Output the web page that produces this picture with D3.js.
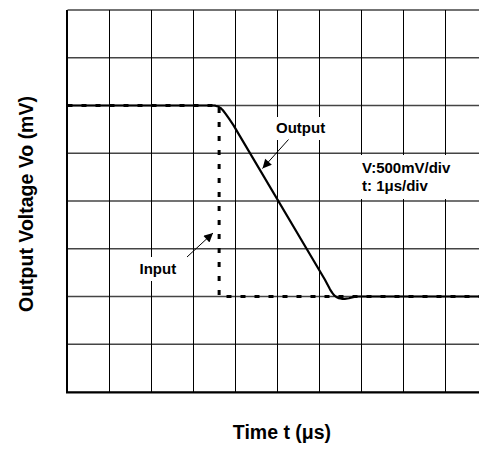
<!DOCTYPE html>
<html>
<head>
<meta charset="utf-8">
<script src="https://cdn.jsdelivr.net/npm/d3@7"></script>
<style>
  html, body { margin: 0; padding: 0; background: #fff; }
  svg { display: block; }
  text { font-family: "Liberation Sans", Arial, sans-serif; font-weight: bold; fill: #000; }
</style>
</head>
<body>
<svg id="chart" width="479" height="451"></svg>
<script>
// ---- data ----
const timeTicks = [0, 1, 2, 3, 4, 5, 6, 7, 8, 9, 10];            // μs (1 μs/div)
const voltTicks = [0, 500, 1000, 1500, 2000, 2500, 3000, 3500, 4000]; // mV (500 mV/div)

const outputTime = [0, 3.45, 3.52, 3.58, 3.64, 3.7, 3.77, 3.85, 3.95, 6.13, 6.19, 6.25, 6.3, 6.35, 6.4, 6.46, 6.53, 6.6, 6.7, 6.8, 6.9, 10];
const outputVolt = [3000, 3000, 2998, 2990, 2975, 2950, 2910, 2860, 2795, 1175, 1125, 1075, 1040, 1012, 995, 983, 976, 975, 982, 993, 1000, 1000];

const inputTime = [0, 3.61, 3.61, 10];
const inputVolt = [3000, 3000, 1000, 1000];

const labels = {
  yTitle: "Output Voltage Vo (mV)",
  xTitle: "Time t (μs)",
  output: "Output",
  input: "Input",
  scale1: "V:500mV/div",
  scale2: "t: 1μs/div"
};

// ---- layout ----
const svg = d3.select("#chart");
const W = 479, H = 451;
const plotLeft = 67.5, plotTop = 10, plotBottom = 392;
const x = d3.scaleLinear().domain([0, 10]).range([plotLeft, plotLeft + 420]);
const y = d3.scaleLinear().domain([0, 4000]).range([plotBottom, plotTop]);

svg.append("rect").attr("width", W).attr("height", H).attr("fill", "#fff");

// horizontal grid
svg.append("g").selectAll("line").data(voltTicks).join("line")
  .attr("x1", plotLeft).attr("x2", W)
  .attr("y1", d => y(d)).attr("y2", d => y(d))
  .attr("stroke", "#444").attr("stroke-width", 1.3);

// vertical grid
svg.append("g").selectAll("line").data(timeTicks).join("line")
  .attr("x1", d => x(d)).attr("x2", d => x(d))
  .attr("y1", plotTop).attr("y2", plotBottom)
  .attr("stroke", "#000").attr("stroke-width", 1);

// axes borders
svg.append("line").attr("x1", plotLeft - 0.5).attr("x2", plotLeft - 0.5).attr("y1", plotTop).attr("y2", plotBottom + 1)
  .attr("stroke", "#000").attr("stroke-width", 2);
svg.append("line").attr("x1", plotLeft - 1.5).attr("x2", W).attr("y1", plotBottom + 0.5).attr("y2", plotBottom + 0.5)
  .attr("stroke", "#000").attr("stroke-width", 2);

// white boxes behind labels
const boxes = [
  [274, 117, 54, 23],
  [136, 257, 43, 24],
  [358, 155, 97, 44]
];
svg.append("g").selectAll("rect").data(boxes).join("rect")
  .attr("x", d => d[0]).attr("y", d => d[1]).attr("width", d => d[2]).attr("height", d => d[3])
  .attr("fill", "#fff");

// input (dotted)
const inputData = inputTime.map((t, i) => [t, inputVolt[i]]);
svg.append("path")
  .datum(inputData)
  .attr("d", d3.line().x(d => x(d[0])).y(d => y(d[1])))
  .attr("fill", "none").attr("stroke", "#000").attr("stroke-width", 3)
  .attr("stroke-dasharray", "5,9");

// output (solid)
const outputData = outputTime.map((t, i) => [t, outputVolt[i]]);
svg.append("path")
  .datum(outputData)
  .attr("d", d3.line().x(d => x(d[0])).y(d => y(d[1])))
  .attr("fill", "none").attr("stroke", "#000").attr("stroke-width", 2.2)
  .attr("stroke-linejoin", "round");

// arrows
const defs = svg.append("defs");
defs.append("marker").attr("id", "ah")
  .attr("viewBox", "0 0 10 10").attr("refX", 10).attr("refY", 5)
  .attr("markerUnits", "userSpaceOnUse")
  .attr("markerWidth", 11).attr("markerHeight", 9)
  .attr("orient", "auto")
  .append("path").attr("d", "M0,0 L10,5 L0,10 Z").attr("fill", "#000");

svg.append("line").attr("x1", 288.5).attr("y1", 139.5).attr("x2", 262.5).attr("y2", 168.5)
  .attr("stroke", "#000").attr("stroke-width", 1).attr("marker-end", "url(#ah)");
svg.append("line").attr("x1", 187).attr("y1", 257).attr("x2", 213).attr("y2", 233)
  .attr("stroke", "#000").attr("stroke-width", 1).attr("marker-end", "url(#ah)");

// labels
svg.append("text").attr("x", 276).attr("y", 132.5).attr("font-size", 15).text(labels.output);
svg.append("text").attr("x", 139.5).attr("y", 273.5).attr("font-size", 15).text(labels.input);
svg.append("text").attr("x", 362).attr("y", 172.5).attr("font-size", 15).text(labels.scale1);
svg.append("text").attr("x", 362).attr("y", 191).attr("font-size", 15).text(labels.scale2);

// axis titles
svg.append("text").attr("x", 282).attr("y", 438.5).attr("font-size", 19.5)
  .attr("text-anchor", "middle").text(labels.xTitle);
svg.append("text").attr("transform", "translate(33,204) rotate(-90)").attr("font-size", 19.5)
  .attr("text-anchor", "middle").text(labels.yTitle);
</script>
</body>
</html>
